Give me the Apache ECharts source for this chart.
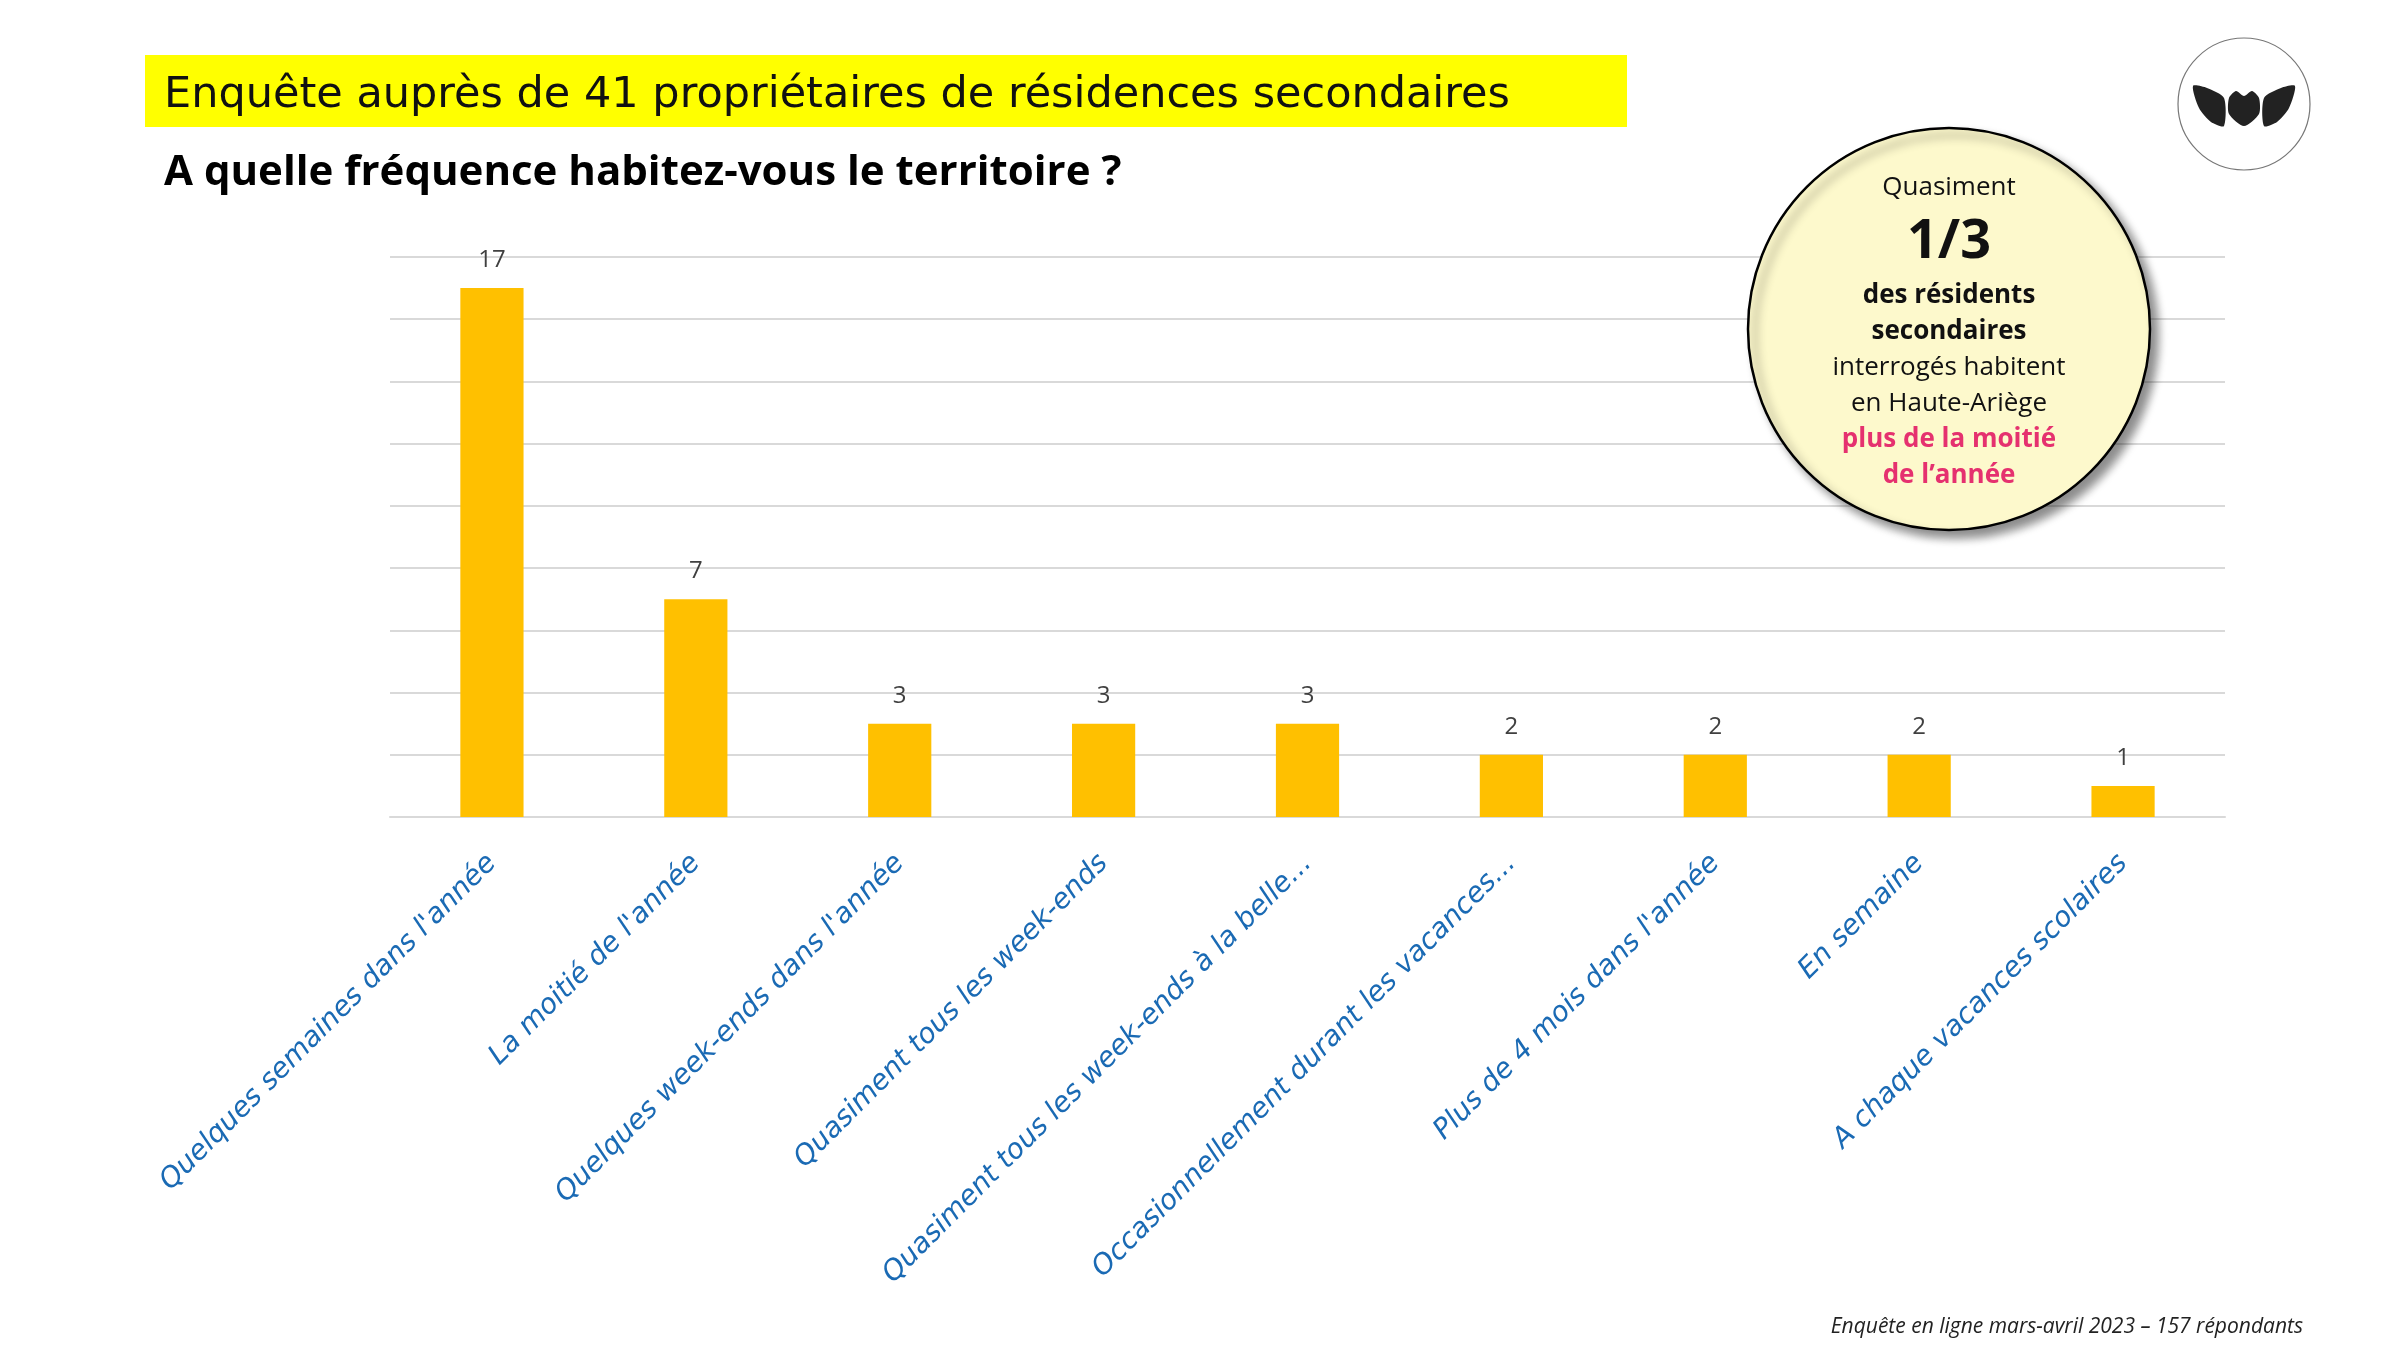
<!DOCTYPE html>
<html>
<head>
<meta charset="utf-8">
<script src="https://cdn.jsdelivr.net/npm/echarts@6/dist/echarts.min.js"></script>
<style>
  html, body { margin: 0; padding: 0; background: #fff; }
  #main { width: 2400px; height: 1350px; }
</style>
</head>
<body>
<div id="main"></div>
<script>
// données du graphique
var categories = [
    "Quelques semaines dans l'année",
    "La moitié de l'année",
    "Quelques week-ends dans l'année",
    "Quasiment tous les week-ends",
    "Quasiment tous les week-ends à la belle...",
    "Occasionnellement durant les vacances...",
    "Plus de 4 mois dans l'année",
    "En semaine",
    "A chaque vacances scolaires"
];
var values = [17, 7, 3, 3, 3, 2, 2, 2, 1];
var yTicks = [0, 2, 4, 6, 8, 10, 12, 14, 16, 18];

var titre = "Enquête auprès de 41 propriétaires de résidences secondaires";
var sousTitre = "A quelle fréquence habitez-vous le territoire ?";
var source = "Enquête en ligne mars-avril 2023 – 157 répondants";
// lignes de la bulle : texte, taille, gras, couleur
var bulle = [
    ["Quasiment", 26, "normal", "#111"],
    ["1/3", 54, "bold", "#111"],
    ["des résidents", 26, "bold", "#111"],
    ["secondaires", 26, "bold", "#111"],
    ["interrogés habitent", 26, "normal", "#111"],
    ["en Haute-Ariège", 26, "normal", "#111"],
    ["plus de la moitié", 26, "bold", "#e5316f"],
    ["de l’année", 26, "bold", "#e5316f"]
];
var bulleY = [188, 243, 296, 332, 368, 404, 440, 476];

(function () {
    var myChart = echarts.init(document.getElementById('main'));

    var cx = 1949, cy = 329, r = 201;
    // feuilles du logo (coordonnées locales)
    var feuilles = [
        [[0, 2], [14, 4], [31, 14], [31, 42], [18, 38], [6, 24]],
        [[36, 14], [43, 7], [51, 12], [59, 7], [66, 14], [66, 30], [51, 42], [36, 30]],
        [[102, 2], [88, 4], [71, 14], [71, 42], [84, 38], [96, 24]]
    ];
    var graphics = [
        // bandeau jaune
        { type: 'rect', shape: { x: 145, y: 55, width: 1482, height: 72 }, style: { fill: '#ffff00' } },
        { type: 'text', x: 164, y: 96, style: { text: titre, font: '43px "DejaVu Sans"', fill: '#111', textVerticalAlign: 'middle' } },
        { type: 'text', x: 164, y: 173, style: { text: sousTitre, font: 'bold 42px "Open Sans"', fill: '#000', textVerticalAlign: 'middle' } },
        // bulle
        { type: 'circle', shape: { cx: cx, cy: cy, r: r }, z: 10,
          style: { fill: '#fdf9cc', stroke: '#000', lineWidth: 2.5, shadowBlur: 10, shadowOffsetX: 7, shadowOffsetY: 7, shadowColor: 'rgba(0,0,0,0.45)' } },
        // logo
        { type: 'circle', shape: { cx: 2244, cy: 104, r: 66 }, style: { fill: '#fff', stroke: '#777', lineWidth: 1.2 } },
        // source
        { type: 'text', x: 2303, y: 1327, style: { text: source, font: 'italic 21px "Open Sans"', fill: '#222', textAlign: 'right', textVerticalAlign: 'middle' } }
    ];
    feuilles.forEach(function (pts) {
        graphics.push({ type: 'polygon', x: 2193, y: 84, z: 5, shape: { points: pts, smooth: 0.25 }, style: { fill: '#222' } });
    });
    bulle.forEach(function (l, i) {
        graphics.push({ type: 'text', x: cx, y: bulleY[i], z: 11,
            style: { text: l[0], font: l[2] + ' ' + l[1] + 'px "Open Sans"', fill: l[3], textAlign: 'center', textVerticalAlign: 'middle' } });
    });

    var option = {
        animation: false,
        grid: { left: 390, right: 175, top: 257, bottom: 533 },
        xAxis: {
            type: 'category',
            data: categories,
            axisLine: { lineStyle: { color: '#d9d9d9', width: 2 } },
            axisTick: { show: false },
            axisLabel: {
                rotate: 45, interval: 0, margin: 42,
                color: '#1a6ab4', fontSize: 28, fontStyle: 'italic', fontFamily: 'DejaVu Sans'
            }
        },
        yAxis: {
            type: 'value',
            min: yTicks[0], max: yTicks[yTicks.length - 1], interval: 2,
            axisLabel: { show: false },
            axisLine: { show: false },
            axisTick: { show: false },
            splitLine: { lineStyle: { color: '#d9d9d9', width: 2 } }
        },
        series: [{
            type: 'bar',
            data: values,
            barWidth: '31%',
            itemStyle: { color: '#ffc000' },
            label: { show: true, position: 'top', distance: 16, color: '#404040', fontSize: 24, fontFamily: 'Open Sans' }
        }],
        graphic: graphics
    };
    myChart.setOption(option);
})();
</script>
</body>
</html>
